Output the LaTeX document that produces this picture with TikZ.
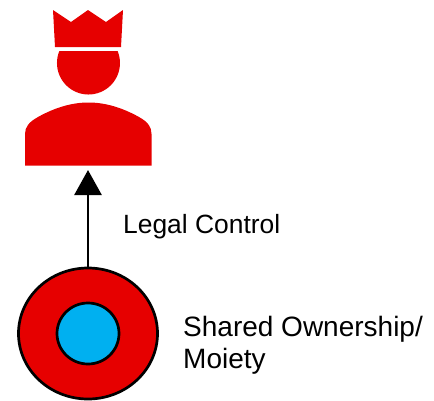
\documentclass[tikz,border=0pt]{standalone}
\usepackage{fontspec}
\setmainfont{Liberation Sans}
\usetikzlibrary{arrows.meta,shapes.geometric}
\definecolor{kingred}{HTML}{E60000}
\definecolor{coreblue}{HTML}{00B0F0}
\tikzset{
  figure/.style={fill=kingred,draw=none},
  ring/.style={ellipse,draw=black,line width=2.7pt,inner sep=0pt},
  label/.style={anchor=base west,align=left,inner sep=0pt},
  control/.style={line width=2.7pt,-{Triangle[length=25pt,width=27pt]}}
}
\begin{document}
\begin{tikzpicture}[x=1pt,y=-1pt]
\useasboundingbox (0,0) rectangle (434,400);
% crown
\fill[figure] (53,10) -- (71,22) -- (88,10) -- (106,22) -- (123,10) -- (121,47) -- (55,47) -- cycle;
% head
\fill[figure] (59.4,51) -- (117.6,51) arc[start angle=-22.4,end angle=202.4,radius=31.5] -- cycle;
% body
\fill[figure] (25,165.5) -- (25,134) .. controls (25,127) and (29,122) .. (38,117)
  .. controls (55,107.5) and (72,102.5) .. (88.5,102.5)
  .. controls (105,102.5) and (122,107.5) .. (139,117)
  .. controls (148,122) and (151.5,127) .. (151.5,134) -- (151.5,165.5) -- cycle;
\node[ring,fill=kingred,minimum width=139pt,minimum height=131pt] (outer) at (88,333.5) {};
\node[ring,fill=coreblue,minimum width=62pt,minimum height=61pt] (inner) at (88,333.5) {};
\coordinate (tip) at (88,170);
\draw[control] (outer.north) -- (tip);
\node[label,font=\fontsize{26.4pt}{34pt}\selectfont] (legal) at (123,233) {Legal Control};
\node[label,font=\fontsize{28pt}{32pt}\selectfont] (shared) at (183,336) {Shared Ownership/};
\node[label,font=\fontsize{28pt}{32pt}\selectfont] (moiety) at (183,368) {Moiety};
\end{tikzpicture}
\end{document}
